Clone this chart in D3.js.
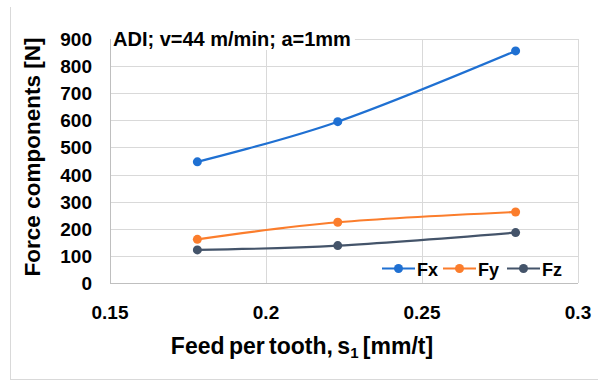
<!DOCTYPE html>
<html><head><meta charset="utf-8">
<script src="https://cdn.jsdelivr.net/npm/d3@7"></script>
<style>body{margin:0;background:#fff;} svg{display:block;font-family:"Liberation Sans",Arial,sans-serif;}</style>
</head><body><svg id="c" width="598" height="381"></svg>
<script>
const feed = [0.178, 0.223, 0.28];
const fx = [447, 595, 856];
const fy = [161, 224, 262];
const fz = [122, 138, 186];
const seriesNames = ["Fx", "Fy", "Fz"];
const seriesColors = ["#1f70d2", "#fb7d2c", "#44546a"];
const xTicks = [0.15, 0.2, 0.25, 0.3];
const yTicks = [0, 100, 200, 300, 400, 500, 600, 700, 800, 900];
const titleText = "ADI; v=44 m/min; a=1mm";

const svg = d3.select("#c");
const L = 110, R = 578, T = 39, B = 283;
const x = d3.scaleLinear().domain([0.15, 0.3]).range([L, R]);
const y = d3.scaleLinear().domain([0, 900]).range([B, T]);

// outer frame (left & bottom)
svg.append("line").attr("x1",10.5).attr("x2",10.5).attr("y1",7).attr("y2",379.5).attr("stroke","#d9d9d9");
svg.append("line").attr("x1",10).attr("x2",598).attr("y1",379.5).attr("y2",379.5).attr("stroke","#d9d9d9");

// gridlines
const g = svg.append("g");
g.selectAll(".hy").data(yTicks.filter(d=>d>0)).join("line")
  .attr("x1",L).attr("x2",R).attr("y1",d=>Math.round(y(d))+0.5).attr("y2",d=>Math.round(y(d))+0.5)
  .attr("stroke","#d9d9d9").attr("stroke-width",1);
g.selectAll(".vx").data(xTicks.filter(d=>d>0.15)).join("line")
  .attr("x1",d=>Math.round(x(d))+0.5).attr("x2",d=>Math.round(x(d))+0.5).attr("y1",T).attr("y2",B)
  .attr("stroke","#d9d9d9").attr("stroke-width",1);
// axes lines
svg.append("line").attr("x1",L+0.5).attr("x2",L+0.5).attr("y1",T).attr("y2",B+0.5).attr("stroke","#bfbfbf");
svg.append("line").attr("x1",L).attr("x2",R).attr("y1",B+0.5).attr("y2",B+0.5).attr("stroke","#bfbfbf");

// title with white background
const title = svg.append("text").attr("x",113).attr("y",46).attr("font-size",20).attr("font-weight","bold")
  .attr("fill","#000").text(titleText);
const bb = title.node().getBBox();
svg.insert("rect","text").attr("x",bb.x-2).attr("y",bb.y).attr("width",bb.width+6).attr("height",bb.height).attr("fill","#fff");

// tick labels
svg.append("g").selectAll("text").data(yTicks).join("text")
  .attr("x",92).attr("y",d=>y(d)+7).attr("text-anchor","end")
  .attr("font-size",19).attr("font-weight","bold").text(d=>d);
svg.append("g").selectAll("text").data(xTicks).join("text")
  .attr("x",d=>x(d)).attr("y",319).attr("text-anchor","middle")
  .attr("font-size",19).attr("font-weight","bold").text(d=>d);

// axis titles
const xl = svg.append("text").attr("x",302).attr("y",354).attr("text-anchor","middle")
  .attr("font-size",23).attr("font-weight","bold").attr("word-spacing","-2");
xl.append("tspan").text("Feed per tooth, s");
xl.append("tspan").attr("font-size",15).attr("dy",4).text("1");
xl.append("tspan").attr("dy",-4).text(" [mm/t]");
svg.append("text").attr("transform","translate(40,157) rotate(-90)").attr("text-anchor","middle")
  .attr("font-size",22.5).attr("font-weight","bold").text("Force components [N]");

// series
const data = [fx, fy, fz];
const line = d3.line().x(d=>x(d[0])).y(d=>y(d[1])).curve(d3.curveCatmullRom.alpha(0));
data.forEach((vals,i)=>{
  const pts = feed.map((f,j)=>[f, vals[j]]);
  svg.append("path").attr("d",line(pts)).attr("fill","none").attr("stroke",seriesColors[i]).attr("stroke-width",2.2);
  svg.append("g").selectAll("circle").data(pts).join("circle")
    .attr("cx",d=>x(d[0])).attr("cy",d=>y(d[1])).attr("r",4.5).attr("fill",seriesColors[i]);
});

// legend
const legX = [382, 443, 507];
const legY = 268.5;
seriesNames.forEach((n,i)=>{
  const lg = svg.append("g");
  lg.append("line").attr("x1",legX[i]).attr("x2",legX[i]+33).attr("y1",legY).attr("y2",legY)
    .attr("stroke",seriesColors[i]).attr("stroke-width",2.2);
  lg.append("circle").attr("cx",legX[i]+16.5).attr("cy",legY).attr("r",4.5).attr("fill",seriesColors[i]);
  lg.append("text").attr("x",legX[i]+35).attr("y",276).attr("font-size",18).attr("font-weight","bold").text(n);
});
</script></body></html>
